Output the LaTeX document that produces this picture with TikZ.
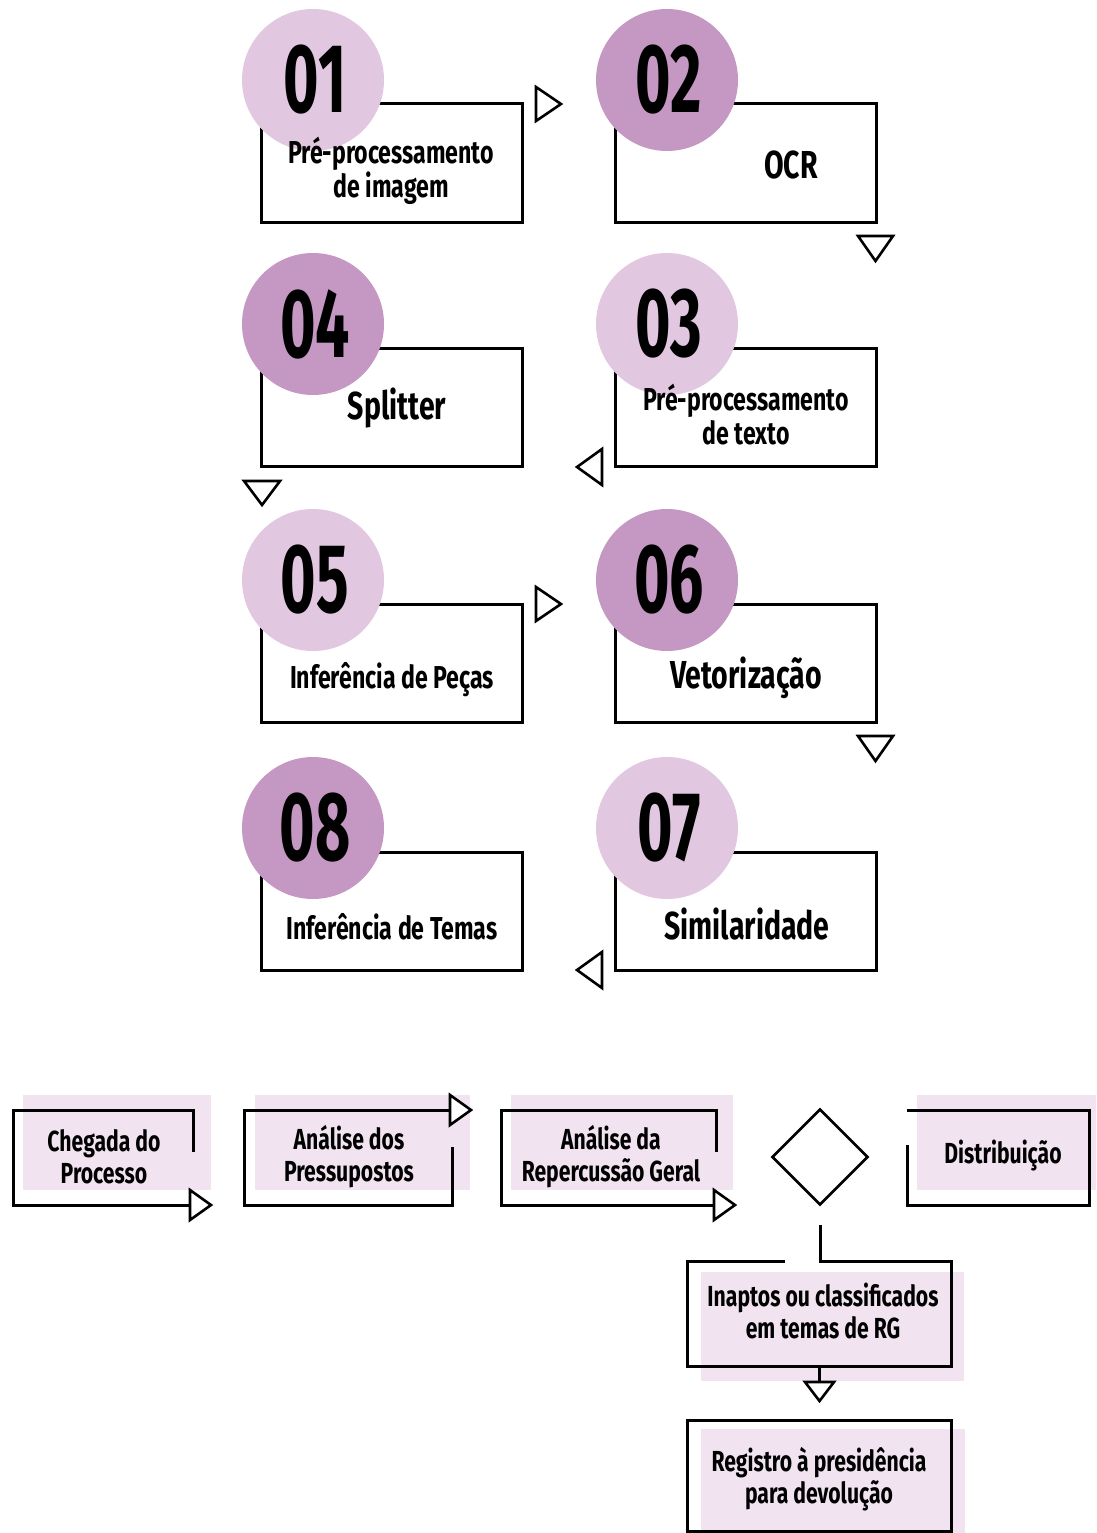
\documentclass[tikz,border=0pt]{standalone}
\usepackage{fontspec}
\setmainfont[FakeStretch=0.73]{Fira Sans}
\newfontfamily\numfont[FakeStretch=0.62]{Fira Sans}
\usetikzlibrary{shapes.geometric}

\definecolor{lilaclight}{HTML}{E2C7E1}
\definecolor{lilacdark}{HTML}{C598C3}
\definecolor{lilacpale}{HTML}{F1E4F0}

\tikzset{
  frame/.style={draw=black, line width=3pt},
  marker/.style={draw=black, fill=white, line width=2.6pt, line join=miter},
  numtxt/.style={font=\numfont\bfseries\fontsize{98}{98}\selectfont, inner sep=0pt},
  lbl/.style={font=\bfseries\fontsize{29}{32}\selectfont, align=center, inner sep=0pt},
  steplbl/.style={font=\bfseries\fontsize{31.7}{34}\selectfont, align=center, inner sep=0pt},
  biglbl/.style={font=\bfseries\fontsize{39}{40}\selectfont, align=center, inner sep=0pt},
  paper/.style={fill=lilacpale, draw=none},
}

% one numbered step: circle centre (#1,#2), number #3, circle colour #4, name #5
\newcommand\procstep[5]{%
  \draw[frame] (#1-52,#2+24) rectangle (#1+209,#2+142);
  \coordinate (#5-box) at (#1+79,#2+83);
  \node[circle, fill=#4, minimum size=142pt, inner sep=0pt] (#5-disc) at (#1,#2) {};
  \node[numtxt] (#5-num) at (#1+2,#2) {#3};
}

\begin{document}
\begin{tikzpicture}[x=1pt, y=-1pt]
\useasboundingbox (0,0) rectangle (1096,1533);

% ---------- numbered pipeline ----------
\procstep{313}{80}{01}{lilaclight}{s1}
\procstep{667}{80}{02}{lilacdark}{s2}
\procstep{313}{324}{04}{lilacdark}{s4}
\procstep{667}{324}{03}{lilaclight}{s3}
\procstep{313}{580}{05}{lilaclight}{s5}
\procstep{667}{580}{06}{lilacdark}{s6}
\procstep{313}{828}{08}{lilacdark}{s8}
\procstep{667}{828}{07}{lilaclight}{s7}

\node[steplbl] (t1) at (391,171) {Pré-processamento\\de imagem};
\node[biglbl] (t2) at (791,165) {OCR};
\node[biglbl] (t4) at (397,408) {Splitter};
\node[steplbl] (t3) at (746,415) {Pré-processamento\\de texto};
\node[steplbl] (t5) at (392,680) {Inferência de Peças};
\node[biglbl] (t6) at (746,678) {Vetorização};
\node[steplbl] (t8) at (392,927) {Inferência de Temas};
\node[biglbl] (t7) at (747,924) {Similaridade};

% direction markers between the steps
\draw[marker] (536,87) -- (536,121) -- (561,104) -- cycle;
\draw[marker] (858,236) -- (893,236) -- (875.5,261) -- cycle;
\draw[marker] (602,449) -- (602,485) -- (577,467) -- cycle;
\draw[marker] (244,481) -- (280,481) -- (262,505) -- cycle;
\draw[marker] (536,587) -- (536,621) -- (561,604) -- cycle;
\draw[marker] (858,736) -- (893,736) -- (875.5,761) -- cycle;
\draw[marker] (602,952) -- (602,988) -- (577,970) -- cycle;

% ---------- process flow ----------
\fill[paper] (23,1095) rectangle (211,1190);
\fill[paper] (255,1095) rectangle (470,1190);
\fill[paper] (511,1095) rectangle (733,1190);
\fill[paper] (917,1095) rectangle (1096,1190);
\fill[paper] (701,1272) rectangle (964,1381);
\fill[paper] (701,1429) rectangle (965,1533);

\node[lbl] (chegada) at (104,1157) {Chegada do\\Processo};
\node[lbl] (pressup) at (349,1157) {Análise dos\\Pressupostos};
\node[lbl] (reperc) at (611,1157) {Análise da\\Repercussão Geral};
\node[draw, line width=2.6pt, diamond, aspect=1, minimum size=96pt, inner sep=0pt] (dec) at (820,1157) {};
\node[lbl] (distr) at (1003,1156) {Distribuição};
\node[lbl] (inaptos) at (823,1311) {Inaptos ou classificados\\em temas de RG};
\node[lbl] (registro) at (819,1479) {Registro à presidência\\para devolução};

% open frames ending in arrow markers
\draw[frame, line join=miter] (193,1152) -- (193,1110) -- (13,1110) -- (13,1205) -- (190,1205);
\draw[marker] (190,1190) -- (190,1220) -- (211,1205) -- cycle;

\draw[frame, line join=miter] (452,1147) -- (452,1205) -- (244,1205) -- (244,1110) -- (450,1110);
\draw[marker] (450,1095) -- (450,1125) -- (471,1110) -- cycle;

\draw[frame, line join=miter] (716,1152) -- (716,1110) -- (501,1110) -- (501,1205) -- (714,1205);
\draw[marker] (714,1190) -- (714,1220) -- (735,1205) -- cycle;

\draw[frame, line join=miter] (907,1145) -- (907,1205) -- (1089,1205) -- (1089,1110) -- (907,1110);

\coordinate (split) at (820,1225);
\draw[frame, line join=miter] (split) -- (820,1261) -- (951,1261) -- (951,1366) -- (687,1366) -- (687,1261) -- (785,1261);
\draw[frame] (819,1366) -- (819,1382);
\draw[marker] (805,1382) -- (834,1382) -- (819.5,1401) -- cycle;

\draw[frame] (687,1420) rectangle (951,1531);
\end{tikzpicture}
\end{document}
